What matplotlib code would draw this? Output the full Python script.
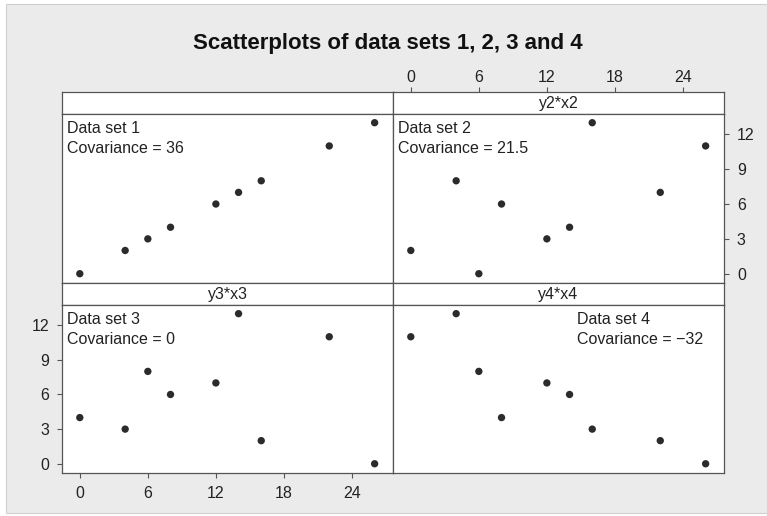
import matplotlib
matplotlib.use("Agg")
import matplotlib.pyplot as plt
from matplotlib.patches import Rectangle

# ---- data ----
x1 = [0, 4, 6, 8, 12, 14, 16, 22, 26]
y1 = [0, 2, 3, 4, 6, 7, 8, 11, 13]
x2 = [0, 4, 6, 8, 12, 14, 16, 22, 26]
y2 = [2, 8, 0, 6, 3, 4, 13, 7, 11]
x3 = [0, 4, 6, 8, 12, 14, 16, 22, 26]
y3 = [4, 3, 8, 6, 7, 13, 2, 11, 0]
x4 = [0, 4, 6, 8, 12, 14, 16, 22, 26]
y4 = [11, 13, 8, 4, 7, 6, 3, 2, 0]
strip_titles = ["", "y2*x2", "y3*x3", "y4*x4"]
panel_notes = ["Data set 1\nCovariance = 36", "Data set 2\nCovariance = 21.5",
               "Data set 3\nCovariance = 0", "Data set 4\nCovariance = \u221232"]
xticks = [0, 6, 12, 18, 24]
yticks = [0, 3, 6, 9, 12]
title = "Scatterplots of data sets 1, 2, 3 and 4"

plt.rcParams['font.family'] = ['Liberation Sans', 'DejaVu Sans']
W, H = 767, 516
fig = plt.figure(figsize=(W / 100, H / 100), dpi=100, facecolor='white')

# gray background frame
fig.patches.append(Rectangle((6 / W, 3 / H), (W - 6) / W, (H - 7) / H,
                             transform=fig.transFigure, facecolor='#ebebeb',
                             edgecolor='#d0d0d0', linewidth=0.8, zorder=-10))

fig.text(388 / W, 1 - 43 / H, title, ha='center', va='center',
         fontsize=16, fontweight='bold', color='#111111')

def px_axes(x0, y0, x1_, y1_):
    return fig.add_axes([x0 / W, 1 - y1_ / H, (x1_ - x0) / W, (y1_ - y0) / H])

XL = (-1.57, 27.62)
YL = (-0.8, 13.75)
spine_c = '#555555'
cols = [(62, 393), (393, 724)]
rows = [((92, 114), (114, 283)), ((283, 305), (305, 473))]
data = [(x1, y1), (x2, y2), (x3, y3), (x4, y4)]

for i in range(4):
    r, c = divmod(i, 2)
    (sy0, sy1), (py0, py1) = rows[r]
    cx0, cx1 = cols[c]
    sax = px_axes(cx0, sy0, cx1, sy1)
    ax = px_axes(cx0, py0, cx1, py1)
    for a in (sax, ax):
        a.set_facecolor('white')
        a.set_xlim(*XL)
        for s in a.spines.values():
            s.set_color(spine_c)
            s.set_linewidth(0.9)
        a.tick_params(colors=spine_c, labelcolor='#222222', labelsize=11.5,
                      length=3.8, width=0.8, direction='out', pad=5.5)
        a.set_xticks([])
        a.set_yticks([])
    sax.text(0.5, 0.47, strip_titles[i], transform=sax.transAxes,
             ha='center', va='center', fontsize=11.5, color='#222222')
    xs, ys = data[i]
    ax.scatter(xs, ys, s=28, color='#2b2b2b', edgecolors='none', zorder=3)
    ax.set_ylim(*YL)
    off_x = 184 if i == 3 else 5
    ax.annotate(panel_notes[i], xy=(0, 1), xycoords='axes fraction',
                xytext=(off_x, -7), textcoords='offset pixels',
                ha='left', va='top', fontsize=11.5, color='#222222',
                linespacing=1.45)
    if i == 1:
        sax.xaxis.set_ticks_position('top')
        sax.set_xticks(xticks)
        sax.set_xticklabels([str(t) for t in xticks])
        sax.tick_params(axis='x', pad=1.5)
        ax.yaxis.set_ticks_position('right')
        ax.set_yticks(yticks)
        ax.set_yticklabels([str(t) for t in yticks])
    if i == 2:
        ax.set_xticks(xticks)
        ax.set_xticklabels([str(t) for t in xticks])
        ax.set_yticks(yticks)
        ax.set_yticklabels([str(t) for t in yticks])

fig.savefig("out.png", dpi=100, facecolor='white')
